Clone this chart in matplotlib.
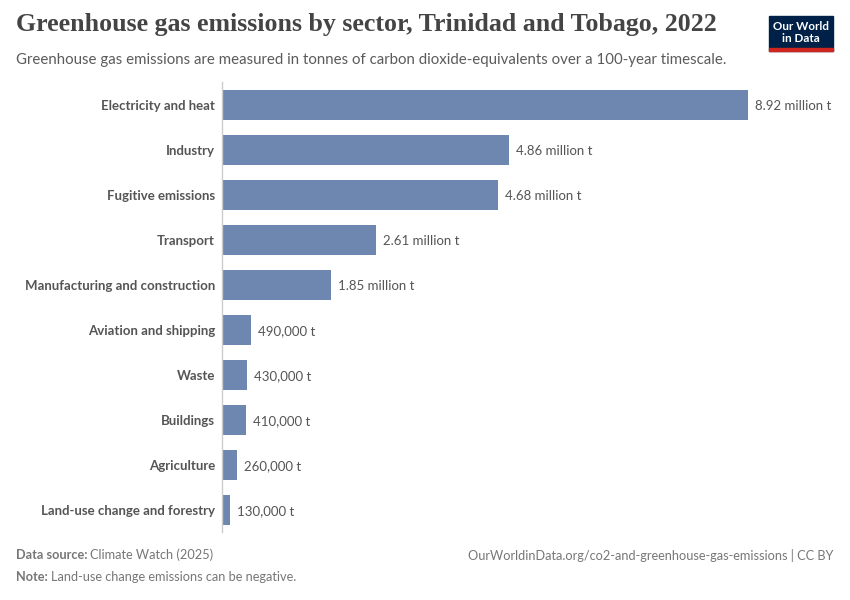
import matplotlib
matplotlib.use("Agg")
import matplotlib.pyplot as plt
from matplotlib.patches import Rectangle

categories = ["Electricity and heat", "Industry", "Fugitive emissions", "Transport",
              "Manufacturing and construction", "Aviation and shipping", "Waste",
              "Buildings", "Agriculture", "Land-use change and forestry"]
values = [8.92e6, 4.86e6, 4.68e6, 2.61e6, 1.85e6, 490000, 430000, 410000, 260000, 130000]
value_labels = ["8.92 million t", "4.86 million t", "4.68 million t", "2.61 million t",
                "1.85 million t", "490,000 t", "430,000 t", "410,000 t", "260,000 t", "130,000 t"]

W, H = 850, 600
fig = plt.figure(figsize=(W/100, H/100), dpi=100)
fig.patch.set_facecolor("white")

def fx(px): return px / W
def fy(py): return 1 - py / H

ax = fig.add_axes([fx(222), fy(532.5), fx(748) - fx(222), fy(82.5) - fy(532.5)])
y = list(range(len(categories)))
ax.barh(y, values, height=0.65, color="#6D87B0", zorder=2)
ax.set_xlim(0, values[0])
ax.set_ylim(len(categories) - 0.5, -0.5)
for s in ["top", "right", "bottom"]:
    ax.spines[s].set_visible(False)
ax.spines["left"].set_color("#cccccc")
ax.spines["left"].set_linewidth(1)
ax.set_xticks([])
ax.set_yticks(y)
ax.set_yticklabels(categories, fontfamily="Lato", fontweight="bold", fontsize=9.5, color="#555555")
ax.tick_params(axis="y", length=0, pad=5)
for yi, v, lab in zip(y, values, value_labels):
    ax.annotate(lab, (v, yi + 0.02), xytext=(5, 0), textcoords="offset points",
                va="center", ha="left", fontfamily="Lato", fontsize=9.5, color="#555555")

fig.text(fx(16), fy(25), "Greenhouse gas emissions by sector, Trinidad and Tobago, 2022",
         fontfamily="Liberation Serif", fontweight="bold", fontsize=18.6, color="#444444",
         va="center", ha="left")
fig.text(fx(16), fy(60), "Greenhouse gas emissions are measured in tonnes of carbon dioxide-equivalents over a 100-year timescale.",
         fontfamily="Lato", fontsize=10.8, color="#5b5b5b", va="center", ha="left")

# logo
fig.patches.append(Rectangle((fx(769), fy(51)), fx(833) - fx(769), fy(16) - fy(51),
                             transform=fig.transFigure, color="#002147", zorder=5))
fig.patches.append(Rectangle((fx(769), fy(51)), fx(833) - fx(769), 3 / H,
                             transform=fig.transFigure, color="#CE261E", zorder=6))
fig.text(fx(801), fy(26), "Our World", fontfamily="Lato", fontweight="bold", fontsize=8.4,
         color="white", ha="center", va="center", zorder=7)
fig.text(fx(801), fy(39), "in Data", fontfamily="Lato", fontweight="bold", fontsize=8.4,
         color="white", ha="center", va="center", zorder=7)

# footer
fs = 9.2
renderer = fig.canvas.get_renderer()
t1 = fig.text(fx(16), fy(555), "Data source:", fontfamily="Lato", fontweight="bold", fontsize=fs,
              color="#777777", va="center", ha="left")
bb = t1.get_window_extent(renderer)
fig.text(fx(16) + bb.width / W + 3 / W, fy(555), "Climate Watch (2025)", fontfamily="Lato", fontsize=fs,
         color="#777777", va="center", ha="left")
t2 = fig.text(fx(16), fy(577), "Note:", fontfamily="Lato", fontweight="bold", fontsize=fs,
              color="#777777", va="center", ha="left")
bb2 = t2.get_window_extent(renderer)
fig.text(fx(16) + bb2.width / W + 3 / W, fy(577), "Land-use change emissions can be negative.", fontfamily="Lato", fontsize=fs,
         color="#777777", va="center", ha="left")
fig.text(fx(833), fy(555), "OurWorldinData.org/co2-and-greenhouse-gas-emissions | CC BY",
         fontfamily="Lato", fontsize=fs, color="#777777", va="center", ha="right")

fig.savefig("out.png", dpi=100)
